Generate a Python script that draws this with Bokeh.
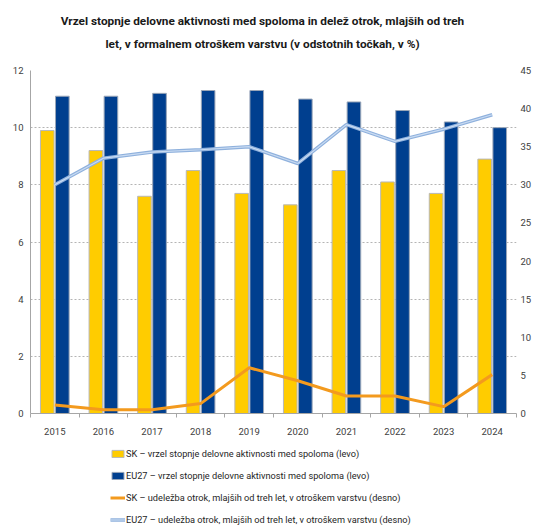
from bokeh.plotting import figure
from bokeh.models import Range1d, LinearAxis, FixedTicker, Legend, LegendItem, ColumnDataSource, Label
from bokeh.layouts import column
from bokeh.transform import dodge
from bokeh.embed import file_html
from bokeh.resources import INLINE
import numpy as np

years = ["2015", "2016", "2017", "2018", "2019", "2020", "2021", "2022", "2023", "2024"]
sk_gap = [9.9, 9.2, 7.6, 8.5, 7.7, 7.3, 8.5, 8.1, 7.7, 8.9]
eu_gap = [11.1, 11.1, 11.2, 11.3, 11.3, 11.0, 10.9, 10.6, 10.2, 10.0]
sk_childcare = [1.1, 0.5, 0.5, 1.3, 6.0, 4.3, 2.3, 2.3, 0.9, 5.1]
eu_childcare = [30.0, 33.5, 34.3, 34.6, 35.0, 32.8, 37.9, 35.7, 37.3, 39.2]
left_ticks = [0, 2, 4, 6, 8, 10, 12]
right_ticks = [0, 5, 10, 15, 20, 25, 30, 35, 40, 45]

title_1 = "Vrzel stopnje delovne aktivnosti med spoloma in delež otrok, mlajših od treh"
title_2 = "let, v formalnem otroškem varstvu (v odstotnih točkah, v %)"
legend_labels = [
    "SK – vrzel stopnje delovne aktivnosti med spoloma (levo)",
    "EU27 – vrzel stopnje delovne aktivnosti med spoloma (levo)",
    "SK – udeležba otrok, mlajših od treh let, v otroškem varstvu (desno)",
    "EU27 – udeležba otrok, mlajših od treh let, v otroškem varstvu (desno)",
]

FONT = "Roboto"
TXT = "#404040"
W = 534

SK_BAR = dict(fill_color="#FFCC00", line_color="#B8B8B8", line_width=1)
EU_BAR = dict(fill_color="#003F8F", line_color="#9AA6B8", line_width=1)
SK_LINE = dict(line_color="#F39A1E", line_width=3)
EU_LINE_A = dict(line_color="#8FB1DD", line_width=3.5)
EU_LINE_B = dict(line_color="#C9DBF2", line_width=1.2)


def blank(height):
    f = figure(width=W, height=height, output_backend="svg", toolbar_location=None,
               x_axis_location=None, y_axis_location=None, min_border=0,
               x_range=Range1d(0, 1), y_range=Range1d(0, 1))
    f.outline_line_color = None
    f.xgrid.visible = False
    f.ygrid.visible = False
    return f


# ---- title strip
pt = blank(58)
for txt, yy in ((title_1, 38), (title_2, 15)):
    pt.add_layout(Label(x=232, y=yy, x_units="screen", y_units="screen", text=txt,
                        text_align="center", text_baseline="middle", text_font=FONT,
                        text_font_style="bold", text_font_size="11.8px", text_color="#1a1a1a"))

# ---- main chart
idx = np.arange(len(years))
src = ColumnDataSource(dict(x=idx, sk=sk_gap, eu=eu_gap, skc=sk_childcare, euc=eu_childcare))

p = figure(width=W, height=382, output_backend="svg", toolbar_location=None,
           x_range=Range1d(-0.5, len(years) - 0.5), y_range=Range1d(left_ticks[0], left_ticks[-1]),
           min_border_left=30, min_border_right=17, min_border_top=12, min_border_bottom=27)
p.outline_line_color = None
p.extra_y_ranges = {"right": Range1d(right_ticks[0], right_ticks[-1])}

p.xgrid.visible = False
p.ygrid.ticker = FixedTicker(ticks=left_ticks)
p.ygrid.grid_line_color = "#B4B4B4"
p.ygrid.grid_line_dash = "2 2"
p.ygrid.grid_line_width = 1

xa = p.xaxis[0]
xa.ticker = FixedTicker(ticks=list(idx), minor_ticks=list(np.arange(len(years) + 1) - 0.5))
xa.major_label_overrides = {int(i): y for i, y in zip(idx, years)}
xa.major_tick_line_color = None
xa.major_tick_out = 0
xa.major_tick_in = 0
xa.minor_tick_line_color = "#A6A6A6"
xa.minor_tick_out = 4
xa.minor_tick_in = 0
xa.axis_line_color = "#A6A6A6"
xa.major_label_standoff = 10
xa.major_label_text_font = FONT
xa.major_label_text_font_size = "9.5px"
xa.major_label_text_color = TXT

ya = p.yaxis[0]
ya.ticker = FixedTicker(ticks=left_ticks)
ya.axis_line_color = "#A6A6A6"
ya.major_tick_line_color = None
ya.major_tick_out = 0
ya.minor_tick_line_color = None
ya.major_label_standoff = 7
ya.major_label_text_font = FONT
ya.major_label_text_font_size = "9.5px"
ya.major_label_text_color = TXT

ra = LinearAxis(y_range_name="right", ticker=FixedTicker(ticks=right_ticks))
ra.axis_line_color = None
ra.major_tick_line_color = None
ra.major_tick_out = 0
ra.minor_tick_line_color = None
ra.major_label_standoff = 4
ra.major_label_text_font = FONT
ra.major_label_text_font_size = "9.5px"
ra.major_label_text_color = TXT
p.add_layout(ra, "right")

p.vbar(x=dodge("x", -0.155), top="sk", width=0.28, source=src, **SK_BAR)
p.vbar(x=dodge("x", 0.155), top="eu", width=0.28, source=src, **EU_BAR)
p.line(x="x", y="skc", source=src, y_range_name="right", **SK_LINE)
p.line(x="x", y="euc", source=src, y_range_name="right", **EU_LINE_A)
p.line(x="x", y="euc", source=src, y_range_name="right", **EU_LINE_B)

# ---- legend strip
pl = blank(87)
nan = float("nan")
dummy = ColumnDataSource(dict(x=[nan], y=[nan]))
l_sk = pl.vbar(x="x", top="y", width=0.1, source=dummy, **SK_BAR)
l_eu = pl.vbar(x="x", top="y", width=0.1, source=dummy, **EU_BAR)
l_skc = pl.line(x="x", y="y", source=dummy, **SK_LINE)
l_euc_a = pl.line(x="x", y="y", source=dummy, **EU_LINE_A)
l_euc_b = pl.line(x="x", y="y", source=dummy, **EU_LINE_B)

legend = Legend(items=[
    LegendItem(label=legend_labels[0], renderers=[l_sk]),
    LegendItem(label=legend_labels[1], renderers=[l_eu]),
    LegendItem(label=legend_labels[2], renderers=[l_skc]),
    LegendItem(label=legend_labels[3], renderers=[l_euc_a, l_euc_b]),
], location=(80, 1))
legend.border_line_color = None
legend.background_fill_alpha = 0
legend.padding = 0
legend.margin = 0
legend.spacing = 9
legend.glyph_width = 15
legend.glyph_height = 9
legend.label_height = 13
legend.label_standoff = 1
legend.label_text_font = FONT
legend.label_text_font_size = "9.2px"
legend.label_text_color = "#262626"
pl.add_layout(legend)

open("out.html", "w").write(file_html(column(pt, p, pl, spacing=0), INLINE))
